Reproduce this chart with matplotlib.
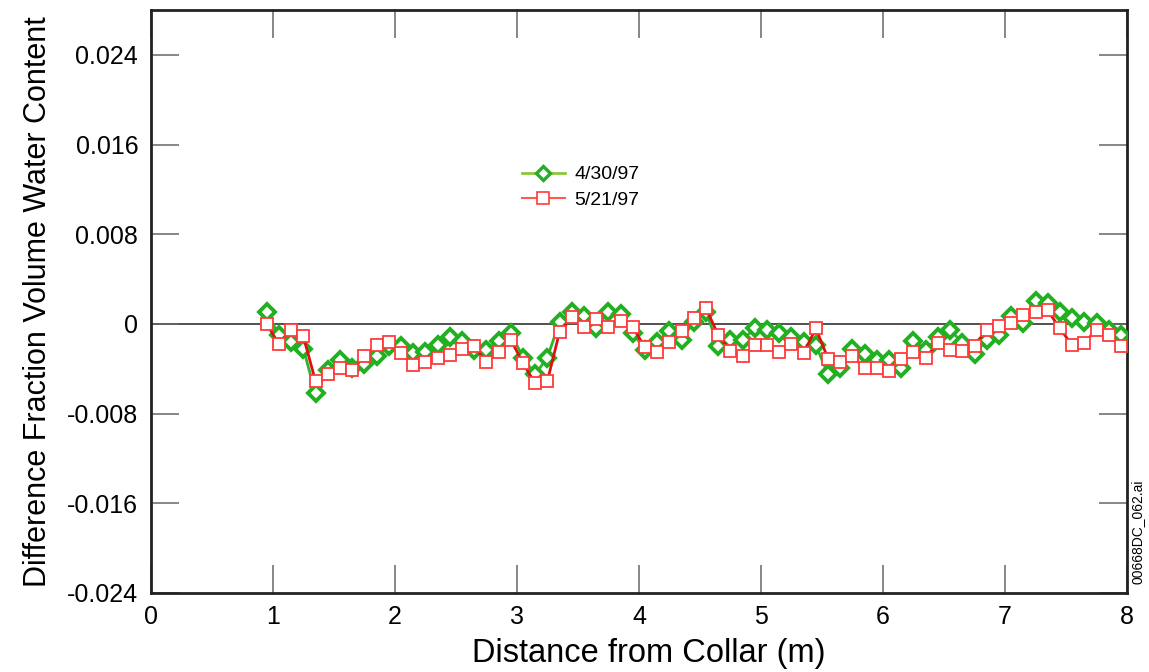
import matplotlib
matplotlib.use("Agg")
import matplotlib.pyplot as plt
from matplotlib.lines import Line2D
import numpy as np

plt.rcParams["font.family"] = ["Liberation Sans", "DejaVu Sans"]

# distance from collar (m), one reading every 0.1 m
distance = np.round(np.arange(0.95, 8.0, 0.1), 2)

diff_0430 = [
    0.0011, -0.0010, -0.0016, -0.0022, -0.0062, -0.0041, -0.0032, -0.0039,
    -0.0036, -0.0029, -0.0020, -0.0020, -0.0026, -0.0025, -0.0019, -0.0012,
    -0.0015, -0.0023, -0.0023, -0.0015, -0.0008, -0.0030, -0.0045, -0.0030,
    0.0002, 0.0011, 0.0007, -0.0004, 0.0011, 0.0009, -0.0008, -0.0023,
    -0.0016, -0.0006, -0.0014, 0.0002, 0.0011, -0.0020, -0.0014, -0.0014,
    -0.0004, -0.0005, -0.0008, -0.0012, -0.0016, -0.0019, -0.0045, -0.0039,
    -0.0022, -0.0027, -0.0032, -0.0032, -0.0039, -0.0015, -0.0023, -0.0012,
    -0.0005, -0.0017, -0.0027, -0.0014, -0.0010, 0.0007, 0.0001, 0.0020,
    0.0019, 0.0011, 0.0005, 0.0002, 0.0001, -0.0005, -0.0010,
]

diff_0521 = [
    0.0000, -0.0018, -0.0005, -0.0011, -0.0051, -0.0045, -0.0039, -0.0041,
    -0.0029, -0.0019, -0.0016, -0.0026, -0.0037, -0.0034, -0.0030, -0.0028,
    -0.0022, -0.0020, -0.0034, -0.0025, -0.0014, -0.0035, -0.0053, -0.0051,
    -0.0007, 0.0006, -0.0003, 0.0004, -0.0003, 0.0003, -0.0003, -0.0021,
    -0.0025, -0.0016, -0.0006, 0.0005, 0.0014, -0.0010, -0.0024, -0.0029,
    -0.0019, -0.0019, -0.0025, -0.0018, -0.0026, -0.0004, -0.0031, -0.0034,
    -0.0029, -0.0039, -0.0039, -0.0042, -0.0031, -0.0025, -0.0030, -0.0017,
    -0.0023, -0.0024, -0.0020, -0.0005, -0.0002, 0.0001, 0.0008, 0.0011,
    0.0012, -0.0004, -0.0019, -0.0017, -0.0005, -0.0010, -0.0020,
]

y_ticks = [-0.024, -0.016, -0.008, 0, 0.008, 0.016, 0.024]
y_tick_labels = ["-0.024", "-0.016", "-0.008", "0", "0.008", "0.016", "0.024"]
x_ticks = [0, 1, 2, 3, 4, 5, 6, 7, 8]

fig = plt.figure(figsize=(11.49, 6.72), dpi=100)
ax = fig.add_axes([0.1312, 0.1176, 0.8497, 0.8675])

ax.axhline(0, color="#333333", lw=1.2, zorder=1)

ax.plot(distance, diff_0430, color="#2db52d", lw=2, marker="D", ms=8,
        mfc="white", mec="#22b022", mew=2.8, zorder=3)
ax.plot(distance, diff_0521, color="#dd1111", lw=2, marker="s", ms=9,
        mfc="white", mec="#ff3b3b", mew=1.3, zorder=4)

ax.set_xlim(0, 8)
ax.set_ylim(-0.024, 0.028)
ax.set_xticks(x_ticks)
ax.set_yticks(y_ticks)
ax.set_yticklabels(y_tick_labels)
ax.tick_params(direction="in", length=20, width=1.1, color="#666666",
               top=True, right=True, labelsize=18, pad=9)
for s in ax.spines.values():
    s.set_linewidth(2)
    s.set_color("#222222")

ax.set_xlabel("Distance from Collar (m)", fontsize=23.5, labelpad=5)
ax.xaxis.set_label_coords(0.51, -0.077)
ax.set_ylabel("Difference Fraction Volume Water Content", fontsize=22, labelpad=10)

handles = [
    Line2D([], [], color="#8cc63f", lw=2, marker="D", ms=7, mfc="white",
           mec="#22b022", mew=2.4),
    Line2D([], [], color="#ff5a4a", lw=1.5, marker="s", ms=9, mfc="white",
           mec="#ff3b3b", mew=1.2),
]
ax.legend(handles, ["4/30/97", "5/21/97"], loc="center left",
          bbox_to_anchor=(0.38, 0.696), frameon=False, fontsize=14,
          handlelength=2.2, handletextpad=0.5, labelspacing=0.39,
          borderpad=0, borderaxespad=0)

fig.text(0.99, 0.286, "00668DC_062.ai", rotation=90, fontsize=10,
         ha="center", va="top")

fig.savefig("out.png", dpi=100)
